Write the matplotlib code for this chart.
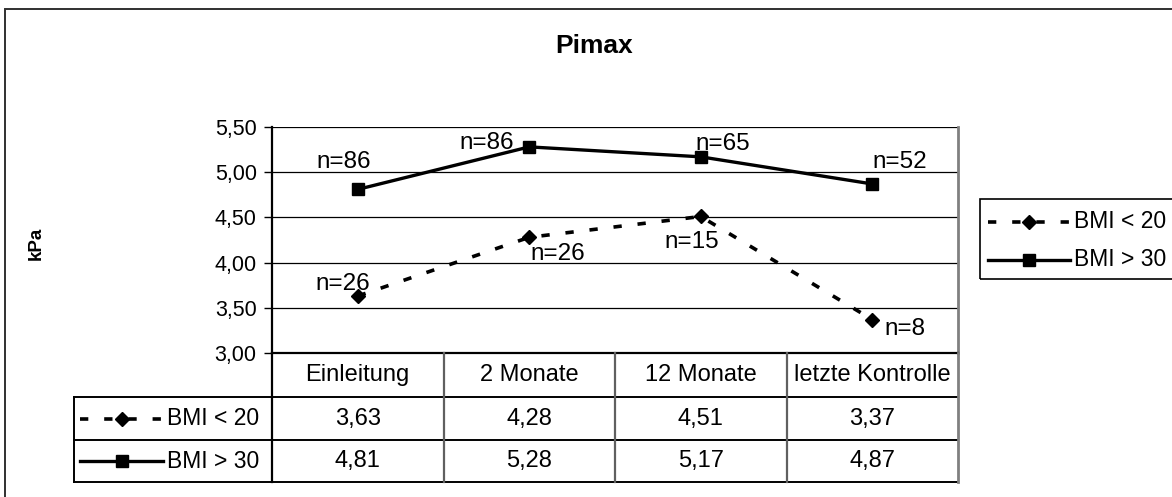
import matplotlib
matplotlib.use("Agg")
import matplotlib.pyplot as plt
from matplotlib.lines import Line2D
from matplotlib.patches import Rectangle
from matplotlib.ticker import FuncFormatter, FixedLocator

plt.rcParams['font.family'] = ['Liberation Sans', 'DejaVu Sans']

categories = ['Einleitung', '2 Monate', '12 Monate', 'letzte Kontrolle']
series_names = ['BMI < 20', 'BMI > 30']
bmi_low = [3.63, 4.28, 4.51, 3.37]
bmi_high = [4.81, 5.28, 5.17, 4.87]
n_low = [26, 26, 15, 8]
n_high = [86, 86, 65, 52]
y_ticks = [3.0, 3.5, 4.0, 4.5, 5.0, 5.5]

W, H = 1172, 497
fig = plt.figure(figsize=(W / 100, H / 100), dpi=100)


def fx(px):
    return px / W


def fy(py):
    return 1 - py / H


def de(v):
    return f"{v:.2f}".replace('.', ',')


# plot area in pixels
L, R, T, B = 272, 958, 127, 353
ax = fig.add_axes([fx(L), fy(B), fx(R) - fx(L), fy(T) - fy(B)])

low_style = dict(color='black', lw=2.6, ls=(0, (2.3, 4.4)), dash_capstyle='butt',
                 marker='D', ms=7.5, mfc='black', mec='black')
high_style = dict(color='black', lw=2.4, ls='-', marker='s', ms=8,
                  mfc='black', mec='black')

x = list(range(len(categories)))
ax.plot(x, bmi_low, zorder=3, **low_style)
ax.plot(x, bmi_high, zorder=3, **high_style)

ax.set_xlim(-0.5, len(categories) - 0.5)
ax.set_ylim(3.0, 5.5)
ax.yaxis.set_major_locator(FixedLocator(y_ticks))
ax.yaxis.set_major_formatter(FuncFormatter(lambda v, p: de(v)))
ax.set_xticks([])
ax.tick_params(axis='y', direction='out', length=6, width=1, pad=5, labelsize=15.5)
ax.grid(axis='y', color='black', lw=0.9)
ax.set_axisbelow(True)
ax.spines['top'].set_visible(False)
ax.spines['left'].set_linewidth(1.6)
ax.spines['bottom'].set_linewidth(1.6)
ax.spines['right'].set_color('#808080')
ax.spines['right'].set_linewidth(2)

# n labels (offsets in pixels)
high_off = [(-14, 27), (-43, 4), (22, 13), (28, 22)]
low_off = [(-15, 12), (28, -17), (-9, -26), (33, -9)]
for xi, v, n, (dx, dy) in zip(x, bmi_high, n_high, high_off):
    ax.annotate(f"n={n}", (xi, v), xytext=(dx * 0.72, dy * 0.72),
                textcoords='offset points', ha='center', va='center', fontsize=17.5)
for xi, v, n, (dx, dy) in zip(x, bmi_low, n_low, low_off):
    ax.annotate(f"n={n}", (xi, v), xytext=(dx * 0.72, dy * 0.72),
                textcoords='offset points', ha='center', va='center', fontsize=17.5)

# title and axis label
fig.text(fx(594), fy(46), 'Pimax', ha='center', va='center', fontsize=19, fontweight='bold')
fig.text(fx(36), fy(243), 'kPa', ha='center', va='center', rotation=90,
         fontsize=13.5, fontweight='bold')

# outer chart frame
fig.patches.append(Rectangle((fx(5), fy(505)), fx(1185) - fx(5), fy(9) - fy(505),
                             transform=fig.transFigure, fill=False,
                             edgecolor='#303030', lw=1.4))

# data table under the plot
col_w = (R - L) / len(categories)
col_edges = [L + i * col_w for i in range(len(categories) + 1)]
rows_y = [353, 397, 440, 482]
tbl_left = 74


def hline(y, x0, x1, c='black', lw=1.4):
    fig.add_artist(Line2D([fx(x0), fx(x1)], [fy(y), fy(y)], color=c, lw=lw,
                          transform=fig.transFigure))


def vline(xp, y0, y1, c='#606060', lw=1.6):
    fig.add_artist(Line2D([fx(xp), fx(xp)], [fy(y0), fy(y1)], color=c, lw=lw,
                          transform=fig.transFigure))


for y in rows_y[1:]:
    hline(y, tbl_left, R)
vline(tbl_left, rows_y[1], rows_y[3], c='black', lw=1.4)
vline(L, rows_y[0], rows_y[3], c='black', lw=1.6)
for xe in col_edges[1:-1]:
    vline(xe, rows_y[0], rows_y[3])
vline(R, rows_y[0], rows_y[3], c='#808080', lw=2)

for i, cat in enumerate(categories):
    cx = (col_edges[i] + col_edges[i + 1]) / 2
    fig.text(fx(cx), fy((rows_y[0] + rows_y[1]) / 2), cat, ha='center', va='center', fontsize=17)
    fig.text(fx(cx), fy((rows_y[1] + rows_y[2]) / 2), de(bmi_low[i]), ha='center', va='center', fontsize=17)
    fig.text(fx(cx), fy((rows_y[2] + rows_y[3]) / 2), de(bmi_high[i]), ha='center', va='center', fontsize=17)


def key(x0, x1, y, name, style):
    fig.add_artist(Line2D([fx(x0), fx(x1)], [fy(y), fy(y)], transform=fig.transFigure,
                          **{k: v for k, v in style.items() if k not in ('marker', 'ms', 'mfc', 'mec')}))
    fig.add_artist(Line2D([fx((x0 + x1) / 2)], [fy(y)], transform=fig.transFigure, ls='none',
                          marker=style['marker'], ms=style['ms'], mfc='black', mec='black'))
    fig.text(fx(x1 + 4), fy(y), name, ha='left', va='center', fontsize=16.5)


# row labels of the table
key(80, 163, (rows_y[1] + rows_y[2]) / 2, series_names[0], low_style)
key(80, 163, (rows_y[2] + rows_y[3]) / 2, series_names[1], high_style)

# legend on the right
fig.patches.append(Rectangle((fx(980), fy(279)), fx(1190) - fx(980), fy(199) - fy(279),
                             transform=fig.transFigure, fill=False, edgecolor='black', lw=1.2))
key(988, 1070, 222, series_names[0], low_style)
key(988, 1070, 260, series_names[1], high_style)

fig.savefig('out.png', dpi=100)
